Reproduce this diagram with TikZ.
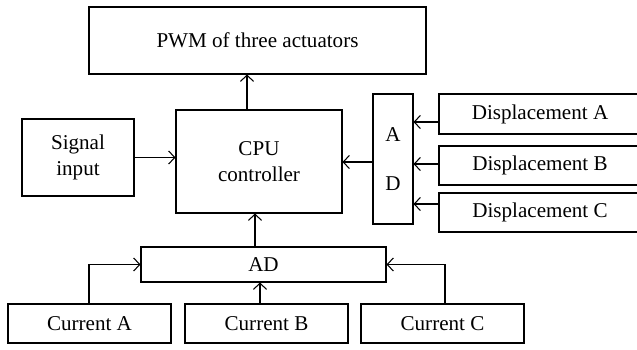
\documentclass[tikz,border=0pt]{standalone}
\usepackage{fontspec}
\setmainfont{Liberation Serif}
\usetikzlibrary{arrows.meta}

\begin{document}
\begin{tikzpicture}[x=0.02cm, y=-0.02cm, line width=0.6pt,
    >={Straight Barb[length=3.5pt,width=7.5pt]},
    blk/.style={draw, inner sep=0pt, font=\fontsize{12}{14.4}\selectfont, align=center}]
            \useasboundingbox (0, 0) rectangle (637, 349);

            \node (pwm) at (257.5, 40.5) [blk, minimum width=337*0.02cm, minimum height=67*0.02cm] {PWM of three actuators};
            \node (sig) at (78, 157.5) [blk, minimum width=112*0.02cm, minimum height=77*0.02cm] {Signal\\input};
            \node (cpu) at (259, 161.5) [blk, minimum width=166*0.02cm, minimum height=103*0.02cm] {CPU\\controller};
            \node (adv) at (393, 159) [blk, minimum width=40*0.02cm, minimum height=130*0.02cm] {A\\[13pt]D};

            \node (da) at (540, 114) [blk, minimum width=202*0.02cm, minimum height=40*0.02cm] {Displacement A};
            \node (db) at (540, 165.5) [blk, minimum width=202*0.02cm, minimum height=39*0.02cm] {Displacement B};
            \node (dc) at (540, 212.5) [blk, minimum width=202*0.02cm, minimum height=39*0.02cm] {Displacement C};

            \node (ad) at (263.5, 264.5) [blk, minimum width=245*0.02cm, minimum height=35*0.02cm] {AD};
            \node (ca) at (89.5, 323.5) [blk, minimum width=163*0.02cm, minimum height=39*0.02cm] {Current A};
            \node (cb) at (266.5, 323.5) [blk, minimum width=163*0.02cm, minimum height=39*0.02cm] {Current B};
            \node (cc) at (442.5, 323.5) [blk, minimum width=163*0.02cm, minimum height=39*0.02cm] {Current C};

            \draw [->] (cpu.north -| 247, 0) -- (pwm.south -| 247, 0);
            \draw [->] (sig.east) -- (sig.east -| cpu.west);
            \draw [->] (adv.west |- 0, 162) -- (cpu.east |- 0, 162);

            \draw [->] (da.west |- 0, 122) -- (adv.east |- 0, 122);
            \draw [->] (db.west |- 0, 164) -- (adv.east |- 0, 164);
            \draw [->] (dc.west |- 0, 204) -- (adv.east |- 0, 204);

            \draw [->] (ad.north -| 255, 0) -- (cpu.south -| 255, 0);
            \draw [->] (ca.north -| 89, 0) |- (ad.west);
            \draw [->] (cb.north -| 260, 0) -- (ad.south -| 260, 0);
            \draw [->] (cc.north -| 445, 0) |- (ad.east);
        \end{tikzpicture}
\end{document}
